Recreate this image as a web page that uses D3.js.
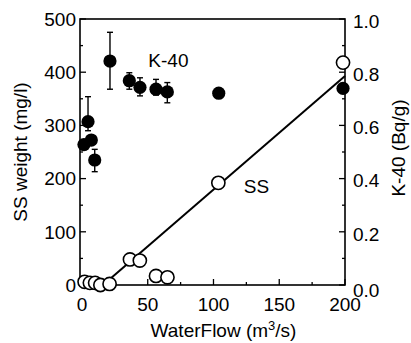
<!DOCTYPE html>
<html>
<head>
<meta charset="utf-8">
<script src="https://cdn.jsdelivr.net/npm/d3@7"></script>
<style>
    body { margin: 0; background: #fff; }
    svg text { font-family: "Liberation Sans", Arial, Helvetica, sans-serif; fill: #000; }
</style>
</head>
<body>
<svg width="411" height="343"></svg>
<script>
// SS weight (open circles, left axis)
var ssFlow   = [2, 6, 10, 14, 21, 36.5, 44, 56.3, 65, 103.7, 198.5];
var ssWeight = [6, 4, 4, 0, 2, 48, 46, 17, 14.5, 192, 418];

// SS regression line end points
var fitFlow   = [16, 200];
var fitWeight = [0, 393];

// K-40 (filled circles, right axis) with error bars
var kFlow = [1.5, 4.6, 7.1, 9.7, 21.3, 36, 44.1, 56.3, 64.9, 104, 198.5];
var kVal  = [0.528, 0.614, 0.545, 0.47, 0.842, 0.768, 0.743, 0.736, 0.726, 0.721, 0.739];
var kLo   = [0.51, 0.58, 0.53, 0.426, 0.736, 0.736, 0.711, 0.714, 0.685, 0.721, 0.739];
var kHi   = [0.545, 0.708, 0.56, 0.51, 0.95, 0.798, 0.779, 0.773, 0.761, 0.721, 0.739];

var xTicks = [0, 50, 100, 150, 200];
var yLeftTicks = [0, 100, 200, 300, 400, 500];
var yRightTicks = [0, 0.2, 0.4, 0.6, 0.8, 1.0];

(function () {
    var svg = d3.select("svg"),
        plotL = 80, plotR = 345, plotT = 19, plotB = 285;

    var x = d3.scaleLinear().domain([-1.5, 200]).range([plotL, plotR]),
        yL = d3.scaleLinear().domain([0, 500]).range([plotB, plotT]),
        yR = d3.scaleLinear().domain([0, 1]).range([plotB, plotT]);

    var fontSize = "19px";

    // frame
    svg.append("rect")
        .attr("x", plotL).attr("y", plotT)
        .attr("width", plotR - plotL).attr("height", plotB - plotT)
        .attr("fill", "none").attr("stroke", "#000").attr("stroke-width", 1.6);

    // ticks (inside)
    var tickG = svg.append("g").attr("stroke", "#000").attr("stroke-width", 1.3);
    d3.range(0, 501, 50).forEach(function (v) {
        var len = v % 100 === 0 ? 6 : 3;
        tickG.append("line").attr("x1", plotL).attr("x2", plotL + len)
            .attr("y1", yL(v)).attr("y2", yL(v));
    });
    d3.range(0, 11).forEach(function (i) {
        var v = i / 10, len = i % 2 === 0 ? 6 : 3;
        tickG.append("line").attr("x1", plotR).attr("x2", plotR - len)
            .attr("y1", yR(v)).attr("y2", yR(v));
    });
    d3.range(0, 201, 25).forEach(function (v) {
        var len = v % 50 === 0 ? 6 : 3;
        tickG.append("line").attr("x1", x(v)).attr("x2", x(v))
            .attr("y1", plotB).attr("y2", plotB - len);
    });

    // tick labels
    svg.append("g").selectAll("text").data(yLeftTicks).enter().append("text")
        .attr("x", plotL - 4).attr("y", function (d) { return yL(d); })
        .attr("dy", "0.36em").attr("text-anchor", "end")
        .style("font-size", fontSize)
        .text(function (d) { return d; });

    svg.append("g").selectAll("text").data(yRightTicks).enter().append("text")
        .attr("x", plotR + 8).attr("y", function (d) { return yR(d) + (d === 0 ? 5 : 2); })
        .attr("dy", "0.36em").attr("text-anchor", "start")
        .style("font-size", fontSize)
        .text(function (d) { return d3.format(".1f")(d); });

    svg.append("g").selectAll("text").data(xTicks).enter().append("text")
        .attr("x", function (d) { return x(d); }).attr("y", 311)
        .attr("text-anchor", "middle")
        .style("font-size", fontSize)
        .text(function (d) { return d; });

    // axis titles
    svg.append("text")
        .attr("transform", "translate(27," + ((plotT + plotB) / 2) + ") rotate(-90)")
        .attr("text-anchor", "middle").style("font-size", fontSize)
        .text("SS weight (mg/l)");

    svg.append("text")
        .attr("transform", "translate(405," + ((plotT + plotB) / 2 - 4) + ") rotate(-90)")
        .attr("text-anchor", "middle").style("font-size", fontSize)
        .text("K-40 (Bq/g)");

    var xt = svg.append("text")
        .attr("x", (plotL + plotR) / 2 + 11).attr("y", 337)
        .attr("text-anchor", "middle").style("font-size", fontSize);
    xt.append("tspan").text("WaterFlow (m");
    xt.append("tspan").attr("dy", -7).style("font-size", "13px").text("3");
    xt.append("tspan").attr("dy", 7).text("/s)");

    // series labels
    svg.append("text").attr("x", x(36) + 19).attr("y", 67)
        .style("font-size", fontSize).text("K-40");
    svg.append("text").attr("x", x(123)).attr("y", 193)
        .style("font-size", fontSize).text("SS");

    // regression line
    var fit = fitFlow.map(function (d, i) { return [d, fitWeight[i]]; });
    svg.append("path")
        .attr("d", d3.line().x(function (d) { return x(d[0]); }).y(function (d) { return yL(d[1]); })(fit))
        .attr("fill", "none").attr("stroke", "#000").attr("stroke-width", 2);

    // SS points
    var ss = ssFlow.map(function (d, i) { return {flow: d, w: ssWeight[i]}; });
    svg.append("g").selectAll("circle").data(ss).enter().append("circle")
        .attr("cx", function (d) { return x(d.flow); })
        .attr("cy", function (d) { return yL(d.w); })
        .attr("r", 6.6)
        .attr("fill", "#fff").attr("stroke", "#000").attr("stroke-width", 1.6);

    // K-40 error bars and points
    var k = kFlow.map(function (d, i) { return {flow: d, v: kVal[i], lo: kLo[i], hi: kHi[i]}; });
    var errG = svg.append("g").attr("stroke", "#000").attr("stroke-width", 1.4);
    k.forEach(function (d) {
        if (d.hi - d.lo < 0.001) { return; }
        var cx = x(d.flow);
        errG.append("line").attr("x1", cx).attr("x2", cx).attr("y1", yR(d.lo)).attr("y2", yR(d.hi));
        errG.append("line").attr("x1", cx - 3).attr("x2", cx + 3).attr("y1", yR(d.lo)).attr("y2", yR(d.lo));
        errG.append("line").attr("x1", cx - 3).attr("x2", cx + 3).attr("y1", yR(d.hi)).attr("y2", yR(d.hi));
    });
    svg.append("g").selectAll("circle").data(k).enter().append("circle")
        .attr("cx", function (d) { return x(d.flow); })
        .attr("cy", function (d) { return yR(d.v); })
        .attr("r", 6.6)
        .attr("fill", "#000");
})();
</script>
</body>
</html>
